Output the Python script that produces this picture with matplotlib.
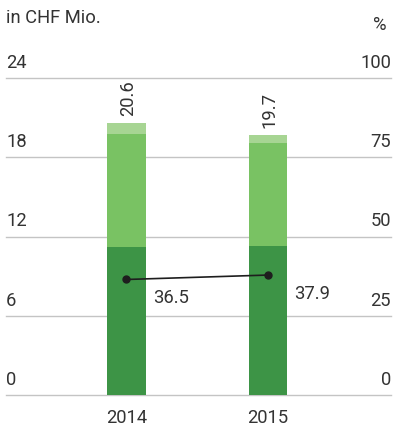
import matplotlib
matplotlib.use("Agg")
import matplotlib.pyplot as plt
import numpy as np

years = ["2014", "2015"]
dark_vals = [11.2, 11.3]
mid_vals = [8.6, 7.8]
light_vals = [0.8, 0.6]
totals = [20.6, 19.7]
pct_vals = [36.5, 37.9]
left_ticks = [0, 6, 12, 18, 24]
right_ticks = [0, 25, 50, 75, 100]

plt.rcParams['font.family'] = ['Roboto', 'DejaVu Sans']
txt = '#333333'
fs = 13.2

W, H = 393, 428
fig = plt.figure(figsize=(W/100, H/100), dpi=100)
ax = fig.add_axes([6/W, (H-395.3)/H, 385/W, 317.3/H])
ax.set_xlim(-0.849, 1.868)
ax.set_ylim(0, 24)
for s in ax.spines.values():
    s.set_visible(False)
ax.set_xticks([]); ax.set_yticks([])

for v in left_ticks:
    ax.axhline(v, color='#c4c4c4', lw=1.0, zorder=0, clip_on=False)

x = np.arange(len(years))
bw = 0.275
ax.bar(x, dark_vals, bw, color='#3d9446', zorder=2)
ax.bar(x, mid_vals, bw, bottom=dark_vals, color='#79c263', zorder=2)
b2 = np.array(dark_vals) + np.array(mid_vals)
ax.bar(x, light_vals, bw, bottom=b2, color='#a7d593', zorder=2)

for xi, t in zip(x, totals):
    ax.annotate(f"{t:.1f}", (xi, t), xytext=(1, 5), textcoords='offset points',
                rotation=90, ha='center', va='bottom', fontsize=fs, color=txt)

trans_l = ax.get_yaxis_transform()
for v, rv in zip(left_ticks, right_ticks):
    ax.annotate(str(v), (0, v), xycoords=trans_l, xytext=(0, 4.5), textcoords='offset points',
                ha='left', va='bottom', fontsize=fs, color=txt)
    ax.annotate(str(rv), (1, v), xycoords=trans_l, xytext=(0, 4.5), textcoords='offset points',
                ha='right', va='bottom', fontsize=fs, color=txt)

for xi, y in zip(x, years):
    ax.annotate(y, (xi, 0), xytext=(0, -16), textcoords='offset points',
                ha='center', va='center', fontsize=fs, color=txt)

ax2 = ax.twinx()
ax2.set_ylim(0, 100)
ax2.set_yticks([])
for s in ax2.spines.values():
    s.set_visible(False)
ax2.plot(x, pct_vals, color='#1e1e1e', lw=1.2, marker='o', markersize=5, zorder=5)
for xi, p in zip(x, pct_vals):
    ax2.annotate(f"{p:.1f}", (xi, p), xytext=(19, -7), textcoords='offset points',
                 ha='left', va='top', fontsize=fs, color=txt)

fig.text(6/W, 1 - 18/H, "in CHF Mio.", ha='left', va='center', fontsize=fs, color=txt)
fig.text(387/W, 1 - 25/H, "%", ha='right', va='center', fontsize=fs, color=txt)

fig.savefig("out.png", dpi=100)
